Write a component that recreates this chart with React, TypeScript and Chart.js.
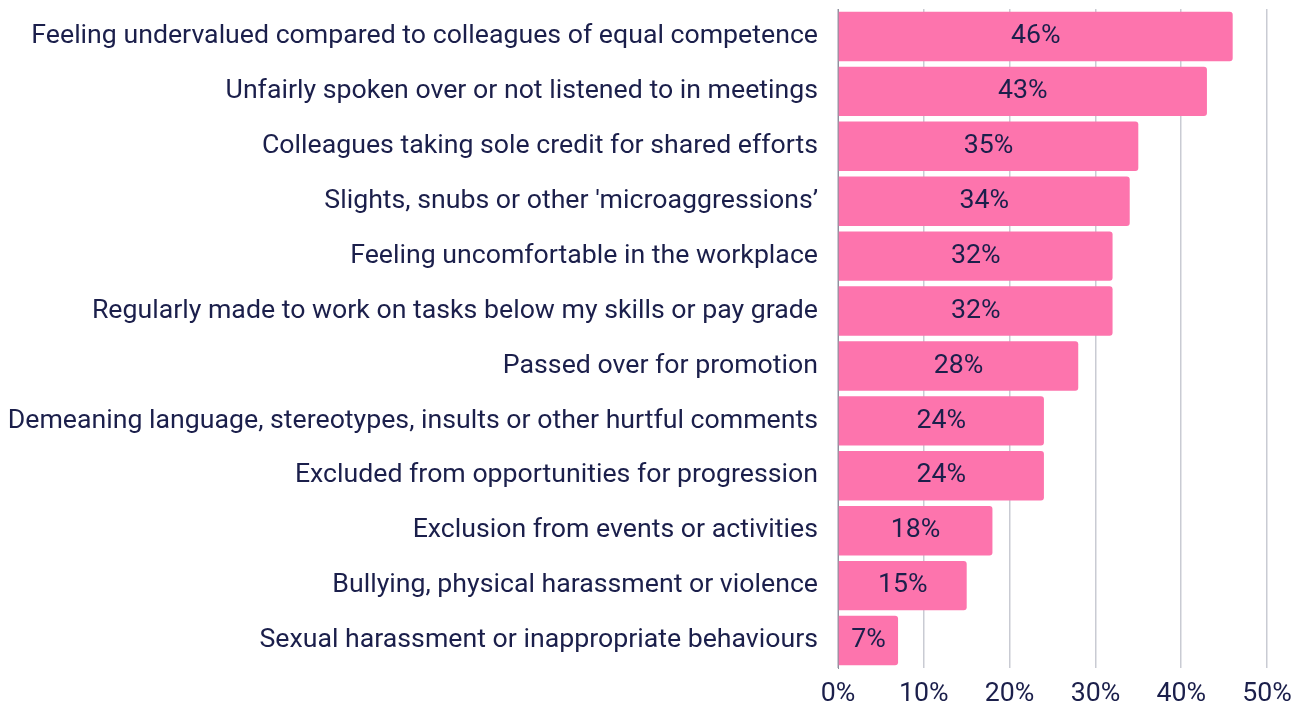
import React, { useEffect, useRef } from "react";
import { Chart, registerables } from "chart.js";

Chart.register(...registerables);

const categories = [
  "Feeling undervalued compared to colleagues of equal competence",
  "Unfairly spoken over or not listened to in meetings",
  "Colleagues taking sole credit for shared efforts",
  "Slights, snubs or other 'microaggressions\u2019",
  "Feeling uncomfortable in the workplace",
  "Regularly made to work on tasks below my skills or pay grade",
  "Passed over for promotion",
  "Demeaning language, stereotypes, insults or other hurtful comments",
  "Excluded from opportunities for progression",
  "Exclusion from events or activities",
  "Bullying, physical harassment or violence",
  "Sexual harassment or inappropriate behaviours",
];

const values = [46, 43, 35, 34, 32, 32, 28, 24, 24, 18, 15, 7];

const xTicks = [0, 10, 20, 30, 40, 50];

const TEXT = "#1b1f4b";
const BAR = "#fd74ad";
const FONT = "Roboto, 'Noto Sans', sans-serif";
const FS = 26.7;

const valueLabels = {
  id: "valueLabels",
  afterDatasetsDraw(chart: any) {
    const ctx = chart.ctx;
    const meta = chart.getDatasetMeta(0);
    ctx.save();
    ctx.fillStyle = TEXT;
    ctx.font = `${FS}px ${FONT}`;
    ctx.textAlign = "center";
    ctx.textBaseline = "middle";
    meta.data.forEach((bar: any, i: number) => {
      const x = (bar.x + bar.base) / 2;
      ctx.fillText(values[i] + "%", x, bar.y);
    });
    ctx.restore();
  },
};

export default function App() {
  const ref = useRef<HTMLCanvasElement | null>(null);
  useEffect(() => {
    if (!ref.current) return;
    const chart = new Chart(ref.current, {
      type: "bar",
      data: {
        labels: categories,
        datasets: [
          {
            data: values,
            backgroundColor: BAR,
            borderRadius: 3,
            barPercentage: 0.9,
            categoryPercentage: 1,
          },
        ],
      },
      options: {
        indexAxis: "y",
        animation: false,
        responsive: false,
        maintainAspectRatio: false,
        layout: { padding: { top: 9, right: 34, bottom: 0, left: 0 } },
        plugins: {
          legend: { display: false },
          tooltip: { enabled: false },
        },
        scales: {
          x: {
            min: 0,
            max: 50,
            afterBuildTicks(axis: any) {
              axis.ticks = xTicks.map((v) => ({ value: v }));
            },
            afterFit(scale: any) {
              scale.height = 38;
              scale.paddingLeft = 0;
              scale.paddingRight = 0;
            },
            grid: {
              color: "#c9cbd3",
              lineWidth: 1.5,
              drawTicks: false,
            },
            border: { display: false },
            ticks: {
              color: TEXT,
              font: { family: FONT, size: FS },
              padding: 10,
              maxRotation: 0,
              callback: (v: any) => v + "%",
            },
          },
          y: {
            afterFit(scale: any) {
              scale.width = 838;
              scale.paddingTop = 0;
              scale.paddingBottom = 0;
            },
            grid: { display: false, drawTicks: false },
            border: { display: true, color: "#8f929e", width: 1 },
            ticks: {
              color: TEXT,
              font: { family: FONT, size: FS },
              padding: 20,
              autoSkip: false,
            },
          },
        },
      },
      plugins: [valueLabels],
    });
    return () => chart.destroy();
  }, []);
  return (
    <div style={{ position: "fixed", left: 0, top: 0, width: 1301, height: 706, background: "#fff" }}>
      <canvas ref={ref} width={1301} height={706} style={{ width: 1301, height: 706 }} />
    </div>
  );
}
